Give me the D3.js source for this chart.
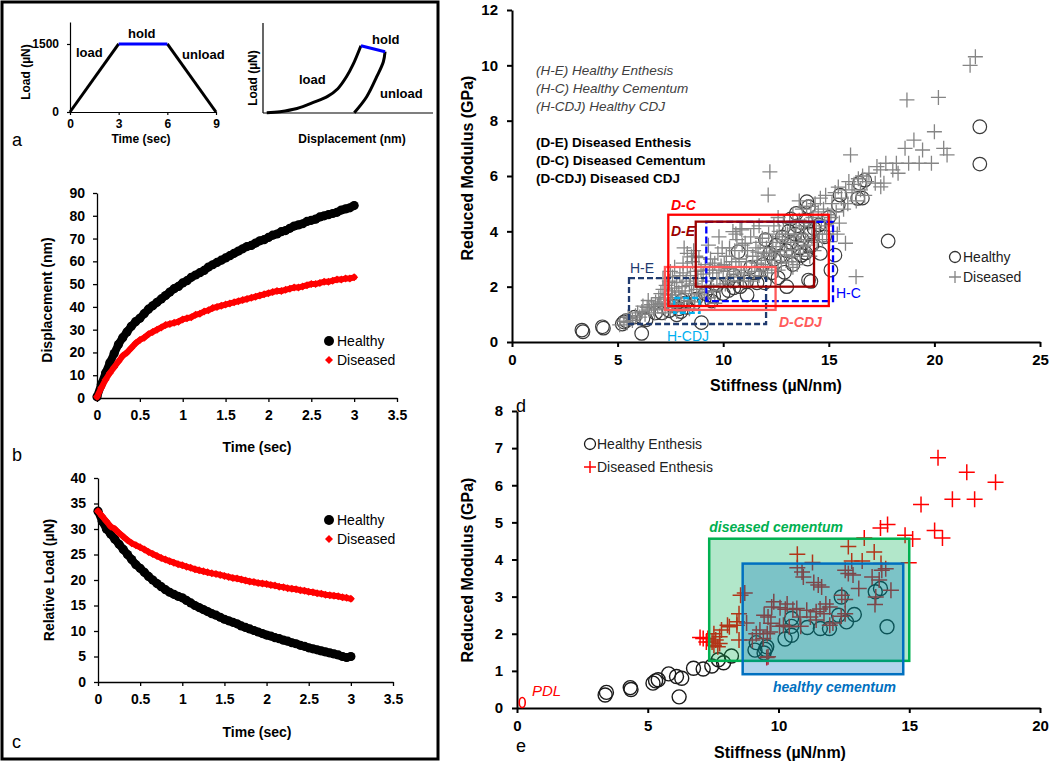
<!DOCTYPE html>
<html><head><meta charset="utf-8">
<script src="https://cdn.jsdelivr.net/npm/d3@7"></script>
<style>body{margin:0;background:#fff}svg{display:block}</style>
</head><body><svg id="c" width="1050" height="763"></svg>
<script>
// ---------- DATA ----------
// panel a (protocol)
const protoTime = [0, 3, 6, 9];
const protoLoad = [0, 1500, 1500, 0];
const loadCurve = [[2.2,0.3],[10,1.5],[20,5],[30,12],[38,18.5],[44,27],[49,40],[53,54],[57.6,74.8]];
const holdCurve = [[57.6,74.8],[71.8,68.1]];
const unloadCurve = [[71.8,68.1],[70.8,57],[66.9,40.3],[61,18.1],[53.7,0.3]];

// panels b, c
const timeGrid = [0,0.05,0.1,0.15,0.2,0.25,0.3,0.35,0.4,0.45,0.5,0.55,0.6,0.65,0.7,0.75,0.8,0.85,0.9,0.95,1,1.05,1.1,1.15,1.2,1.25,1.3,1.35,1.4,1.45,1.5,1.55,1.6,1.65,1.7,1.75,1.8,1.85,1.9,1.95,2,2.05,2.1,2.15,2.2,2.25,2.3,2.35,2.4,2.45,2.5,2.55,2.6,2.65,2.7,2.75,2.8,2.85,2.9,2.95,3];
const dispHealthy = [0.5,6,11,15.5,19.5,23.5,26.5,29,31.5,33.5,35,37,39,40.5,42,43.5,45,46.5,48,49,50.5,51.5,53,54,55,56,57.5,58.5,59.5,60.5,61.5,62.5,63.5,64.5,65.5,66.5,67,68,69,69.5,70.5,71.5,72,73,73.5,74.5,75.5,76,76.5,77.5,78,78.5,79.5,80,80.5,81,81.5,82.5,83,83.5,84.5];
const dispDiseased = [0.5,4.5,8,11,13.5,16,18.5,20,22,24,25.5,26.5,28,29,30,31,32,32.5,33,33.5,34.5,35,35.5,36.5,37,38,38.5,39.5,40,40.5,41,41.5,42,42.5,43,43.5,44,44.5,45,45.5,46,46.5,47,47,47.5,48,48.5,48.5,49,49.5,50,50,50.5,51,51,51.5,52,52,52.5,52.5,53];
const loadHealthy = [33.5,31.5,30,29,28,27,26,25,24,23,22.3,21.5,20.7,20,19.3,18.7,18.1,17.6,17.2,16.8,16.5,16,15.5,15,14.6,14.2,13.8,13.4,13.1,12.7,12.3,12,11.7,11.4,11,10.7,10.4,10.1,9.8,9.5,9.2,9,8.7,8.5,8.2,8,7.7,7.5,7.2,7,6.7,6.5,6.3,6.1,5.9,5.7,5.5,5.3,5,4.8,5];
const loadDiseased = [33.5,32.5,31.5,30.5,30,29.2,28.5,27.8,27.2,26.8,26.4,26,25.5,25.1,24.7,24.3,24,23.7,23.4,23.1,22.9,22.6,22.4,22.1,21.9,21.7,21.5,21.3,21.2,21,20.8,20.6,20.4,20.3,20.1,19.9,19.7,19.6,19.4,19.3,19.2,19,18.9,18.7,18.6,18.4,18.3,18.2,18,17.9,17.7,17.6,17.4,17.3,17.1,17,16.9,16.8,16.6,16.5,16.3];
const bcSeries = ["Healthy", "Diseased"];

// panel d
const dHealthy = [[3.36,0.37],[3.31,0.43],[4.28,0.55],[4.33,0.5],[5.22,0.65],[5.3,0.72],[5.4,0.77],[5.8,0.9],[6.14,0.31],[6.2,0.85],[6.35,0.8],[6.8,1.05],[7.1,1.05],[7.45,1.13],[7.7,1.3],[7.9,1.2],[7.8,0.98],[8.2,1.4],[8.97,0.7],[8.0,1.1],[8.3,1.25],[8.6,1.38],[8.05,1.5],[8.7,1.55],[9.1,1.55],[9.15,1.75],[9.45,1.48],[9.55,1.65],[9.7,2.05],[10.0,1.75],[10.25,1.86],[10.5,1.96],[10.5,2.2],[10.5,2.41],[10.8,2.0],[11.1,2.17],[11.13,1.7],[11.6,2.14],[11.95,2.14],[11.5,2.5],[12.3,2.5],[12.4,2.99],[12.6,2.32],[12.9,2.52],[13.01,2.0],[10.71,3.26],[11.9,2.8],[12.2,3.2],[12.5,3.5],[12.8,3.8],[12.7,3.1],[13.0,3.3],[13.1,4.0],[13.2,3.6],[13.3,2.8],[13.4,3.9],[13.46,4.65],[13.5,4.2],[13.6,3.4],[13.7,3.13],[13.75,3.7],[13.9,3.22],[13.9,4.4],[13.96,5.07],[14.04,4.89],[14.0,3.0],[14.04,2.24],[14.1,3.9],[14.15,2.19],[14.2,3.5],[14.3,4.1],[14.54,4.23],[14.6,3.2],[14.8,3.8],[15.0,4.5],[15.29,3.14],[15.1,2.6],[15.45,4.95],[15.53,5.31],[16.37,5.19],[16.45,5.74],[16.59,5.2],[16.7,5.85],[17.81,3.65],[22.15,7.78],[22.15,6.43],[12.0,3.7],[11.3,2.7],[13.2,4.45]];
const dDiseased = [[5.1,0.62],[5.3,0.75],[5.45,0.7],[5.6,0.85],[5.7,0.78],[5.85,0.95],[5.95,1.05],[5.5,0.9],
[6.05,0.9],[6.15,1.1],[6.3,1.0],[6.4,1.25],[6.5,1.15],[6.6,1.35],[6.7,1.2],[6.8,1.45],[6.9,1.3],[6.95,1.6],[6.45,1.5],[6.75,1.05],[6.2,1.3],
[7.0,1.4],[7.05,1.75],[7.1,1.2],[7.15,1.9],[7.2,1.55],[7.3,2.05],[7.35,1.35],[7.4,1.7],[7.45,2.2],[7.5,1.5],[7.55,1.85],[7.6,2.35],[7.65,1.25],[7.7,1.95],[7.75,1.6],[7.8,2.15],[7.85,1.4],[7.9,1.8],[7.95,2.4],[7.25,1.05],[7.5,2.55],[7.8,1.1],[7.15,2.3],[7.6,1.7],[7.7,2.7],
[8.0,1.6],[8.05,2.0],[8.1,2.5],[8.15,1.3],[8.2,1.85],[8.25,2.2],[8.3,2.7],[8.35,1.5],[8.4,2.05],[8.45,2.4],[8.5,1.75],[8.55,2.9],[8.6,2.1],[8.65,1.45],[8.7,2.55],[8.75,1.9],[8.8,2.3],[8.85,3.05],[8.9,1.7],[8.95,2.6],[8.3,3.2],[8.6,3.3],[8.1,2.85],[8.4,1.2],[8.7,3.1],[8.5,3.08],[8.15,3.4],
[9.0,2.0],[9.05,2.45],[9.1,1.8],[9.15,2.8],[9.2,2.2],[9.3,1.6],[9.35,2.6],[9.4,3.0],[9.45,2.05],[9.5,2.5],[9.55,1.85],[9.6,2.85],[9.7,2.3],[9.75,3.2],[9.8,2.6],[9.85,2.0],[9.9,2.75],[9.95,3.4],[9.3,3.5],[9.6,1.4],[9.8,3.8],[9.5,2.72],
[10.0,2.3],[10.05,2.8],[10.1,2.1],[10.15,3.1],[10.2,2.55],[10.3,3.4],[10.35,2.2],[10.4,2.9],[10.5,2.45],[10.55,3.3],[10.6,2.7],[10.65,3.7],[10.7,2.35],[10.75,3.0],[10.8,4.1],[10.85,2.6],[10.9,3.5],[10.95,2.2],[10.46,3.99],[10.88,4.05],[10.3,2.65],[10.6,3.9],
[11.0,2.5],[11.04,3.57],[11.1,2.9],[11.15,3.3],[11.2,2.3],[11.3,3.8],[11.35,2.7],[11.4,3.1],[11.45,4.1],[11.5,2.55],[11.55,3.4],[11.6,2.85],[11.65,3.25],[11.7,2.4],[11.75,3.6],[11.8,2.95],[11.85,3.75],[11.9,2.6],[11.95,3.2],[11.3,2.2],[11.7,4.2],
[12.0,2.8],[12.05,3.4],[12.1,2.5],[12.13,5.31],[12.21,6.15],[12.15,3.9],[12.2,3.1],[12.3,2.7],[12.35,3.6],[12.4,4.2],[12.45,2.95],[12.5,3.3],[12.55,3.8],[12.6,2.6],[12.65,4.0],[12.7,3.45],[12.75,2.85],[12.8,3.7],[12.85,4.35],[12.9,3.15],[12.95,3.9],[12.6,4.5],[12.3,3.25],
[13.0,3.3],[13.05,3.9],[13.1,2.9],[13.15,4.3],[13.2,3.6],[13.25,3.1],[13.3,4.6],[13.35,3.8],[13.4,3.35],[13.45,4.1],[13.5,2.8],[13.55,3.6],[13.6,4.4],[13.65,3.2],[13.7,3.9],[13.75,4.8],[13.8,3.45],[13.85,4.2],[13.9,3.7],[13.95,4.9],[13.3,2.7],[13.6,5.1],
[14.0,3.5],[14.05,4.3],[14.1,3.1],[14.15,4.9],[14.2,3.8],[14.25,4.5],[14.3,3.3],[14.35,5.0],[14.4,4.1],[14.45,3.6],[14.5,4.7],[14.55,3.9],[14.6,5.2],[14.65,4.4],[14.7,3.7],[14.75,4.8],[14.8,4.2],[14.85,5.3],[14.9,3.9],[14.95,4.6],
[15.04,3.63],[15.1,4.5],[15.15,5.0],[15.2,4.0],[15.3,5.4],[15.35,4.7],[15.45,5.6],[15.5,4.3],[15.6,5.2],[15.7,4.8],[15.79,3.57],[15.8,5.5],[15.9,5.0],[15.95,5.8],[16.03,6.76],[15.4,3.9],
[16.1,5.4],[16.2,5.7],[16.29,2.36],[16.3,5.1],[16.4,5.9],[16.5,5.5],[16.6,6.0],[16.7,5.3],[16.8,5.8],[16.9,6.1],
[17.2,5.74],[17.28,6.34],[17.45,6.22],[17.61,5.74],[17.7,6.46],[17.46,5.61],[18.03,6.22],[18.2,6.46],[18.28,6.1],[18.78,6.46],[19.28,6.46],[18.61,7.0],[19.03,7.3],[19.44,6.94],[20.0,7.6],[20.6,6.76],[18.7,8.75],[20.19,8.84],[21.69,10.0],[21.94,10.31],[20.44,7.0],[19.86,6.46]];
const dBoxNames = ["H-E","H-CDJ","H-C","D-CDJ","D-C","D-E"];
const dBoxX0 = [5.54, 7.68, 9.2, 7.24, 7.4, 8.7];
const dBoxX1 = [12.03, 8.88, 15.2, 12.48, 15.0, 14.3];
const dBoxY0 = [0.65, 1.05, 1.48, 1.16, 1.3, 2.0];
const dBoxY1 = [2.31, 1.59, 4.34, 2.71, 4.6, 4.35];
const dNoteHealthy = ["(H-E)  Healthy Enthesis", "(H-C)  Healthy Cementum", "(H-CDJ)  Healthy CDJ"];
const dNoteDiseased = ["(D-E)  Diseased Enthesis", "(D-C)  Diseased Cementum", "(D-CDJ)  Diseased CDJ"];

// panel e
const eHealthy = [[3.37,0.35],[3.42,0.42],[4.33,0.55],[4.36,0.5],[5.2,0.67],[5.3,0.73],[5.4,0.76],[5.8,0.92],[6.1,0.85],[6.3,0.8],[6.2,0.3],[6.75,1.07],[7.12,1.05],[7.45,1.13],[7.7,1.3],[7.9,1.22],[8.2,1.4],[9.1,1.56],[9.15,1.76],[9.45,1.48],[9.5,1.58],[9.55,1.65],[10.25,1.86],[10.5,1.96],[10.5,2.2],[10.5,2.41],[11.1,2.17],[11.6,2.14],[11.95,2.14],[12.3,2.5],[12.4,2.99],[12.6,2.32],[12.9,2.52],[13.7,3.13],[13.9,3.22],[14.15,2.19]];
const eDiseased = [[16.1,6.74],[17.2,6.35],[18.3,6.08],[15.45,5.48],[16.65,5.62],[17.5,5.62],[13.9,4.85],[14.17,4.94],[15.97,4.78],[16.27,4.58],[13.28,4.58],[15.13,4.55],[14.84,4.65],[12.67,4.35],[13.66,4.2],[10.72,4.14],[11.3,3.92],[12.8,3.96],[13.2,3.96],[14.98,3.91],[13.92,3.89],[12.55,3.71],[12.67,3.62],[12.85,3.58],[10.72,3.78],[10.9,3.66],[10.95,3.53],[13.95,3.71],[14.1,3.75],[13.58,3.53],[13.85,3.45],[11.35,3.38],[11.52,3.31],[11.65,3.26],[13.07,3.22],[14.3,3.17],[8.71,3.1],[8.55,3.04],[12.55,2.92],[12.42,3.04],[13.69,2.79],[13.72,2.99],[9.82,2.86],[9.74,2.72],[10.33,2.8],[10.26,2.66],[10.06,2.7],[10.55,2.65],[10.7,2.68],[11.44,2.59],[11.59,2.67],[11.81,2.8],[11.96,2.72],[11.74,2.54],[11.22,2.45],[11.44,2.37],[11.08,2.63],[10.82,2.45],[9.45,2.5],[9.71,2.28],[9.6,2.45],[10.04,2.2],[10.19,2.23],[10.41,2.19],[11.96,2.23],[12.08,2.29],[12.55,2.54],[12.4,2.47],[10.85,2.2],[9.57,2.0],[9.68,2.05],[9.29,2.1],[9.15,2.0],[9.0,1.83],[9.42,1.87],[9.6,1.38],[8.41,2.32],[8.78,2.29],[8.49,2.54],[8.41,2.23],[8.49,1.83],[7.82,2.1],[8.12,2.19],[8.05,2.23],[7.53,2.0],[7.75,1.92],[7.6,1.83],[7.12,1.87],[7.3,1.87],[7.24,1.78],[7.46,1.78],[7.53,1.69],[7.68,1.65],[7.75,1.74],[7.0,1.9],[9.55,1.36]];
const ePDL = [0.2, 0.15];
const eBoxNames = ["diseased  cementum", "healthy  cementum"];
const eBoxX0 = [7.35, 8.63];
const eBoxX1 = [15.0, 14.77];
const eBoxY0 = [1.27, 0.91];
const eBoxY1 = [4.56, 3.89];
const eSeries = ["Healthy Enthesis", "Diseased Enthesis"];

// ---------- DRAWING ----------
const F = "Arial, 'Liberation Sans', Helvetica, sans-serif";
const svg = d3.select("#c");
svg.append("rect").attr("width",1050).attr("height",763).attr("fill","#fff");
svg.append("rect").attr("x",2).attr("y",2).attr("width",436).attr("height",757)
  .attr("fill","none").attr("stroke","#000").attr("stroke-width",3);

function txt(x, y, s, o = {}) {
  const t = svg.append("text").attr("x", x).attr("y", y).text(s)
    .attr("font-family", F).attr("font-size", o.size || 14)
    .attr("font-weight", o.weight || "normal").attr("font-style", o.style || "normal")
    .attr("fill", o.fill || "#000").attr("text-anchor", o.anchor || "start");
  if (o.rotate) t.attr("transform", `rotate(-90,${x},${y})`);
  return t;
}
function axis(gen, tx, ty, fs, sw) {
  const g = svg.append("g").attr("transform", `translate(${tx},${ty})`).call(gen);
  g.attr("font-family", F).attr("font-size", fs).attr("font-weight", "bold");
  g.select(".domain").attr("stroke", "#000").attr("stroke-width", sw);
  g.selectAll(".tick line").attr("stroke", "#000").attr("stroke-width", sw);
  g.selectAll(".tick text").attr("fill", "#000");
  return g;
}
const fmt = d3.format("~g");

// ===== panel a (left) =====
const xA = d3.scaleLinear([0, 9], [70, 216]);
const yA = d3.scaleLinear([0, 1985], [112, 22]);
axis(d3.axisLeft(yA).tickValues([0, 1500]).tickFormat(d3.format("d")).tickSize(3).tickSizeOuter(0).tickPadding(8), 70, 0, 12, 1.2);
axis(d3.axisBottom(xA).tickValues(protoTime).tickSize(3).tickSizeOuter(0).tickPadding(4), 0, 112, 12, 1.2);
const protoPts = protoTime.map((t, i) => [t, protoLoad[i]]);
const lnA = d3.line().x(d => xA(d[0])).y(d => yA(d[1]));
svg.append("path").attr("d", lnA([protoPts[0], protoPts[1]])).attr("stroke", "#000").attr("stroke-width", 3).attr("fill", "none");
svg.append("path").attr("d", lnA([protoPts[2], protoPts[3]])).attr("stroke", "#000").attr("stroke-width", 3).attr("fill", "none");
svg.append("path").attr("d", lnA([protoPts[1], protoPts[2]])).attr("stroke", "#0000ff").attr("stroke-width", 3).attr("fill", "none");
txt(76, 57, "load", {size: 13, weight: "bold"});
txt(128, 38, "hold", {size: 13, weight: "bold"});
txt(182, 59, "unload", {size: 13, weight: "bold"});
txt(30, 72, "Load (µN)", {size: 12, weight: "bold", anchor: "middle", rotate: true});
txt(141, 143, "Time (sec)", {size: 12, weight: "bold", anchor: "middle"});
txt(12, 146, "a", {size: 18});

// ===== panel a (right) =====
const xA2 = d3.scaleLinear([0, 100], [263, 433]);
const yA2 = d3.scaleLinear([0, 100], [113, 23]);
svg.append("line").attr("x1", xA2(0)).attr("x2", xA2(0)).attr("y1", yA2(0)).attr("y2", yA2(100)).attr("stroke", "#000").attr("stroke-width", 1.2);
svg.append("line").attr("x1", xA2(0)).attr("x2", xA2(100)).attr("y1", yA2(0)).attr("y2", yA2(0)).attr("stroke", "#000").attr("stroke-width", 1.2);
const lnA2 = d3.line().x(d => xA2(d[0])).y(d => yA2(d[1])).curve(d3.curveCatmullRom);
svg.append("path").attr("d", lnA2(loadCurve)).attr("stroke", "#000").attr("stroke-width", 3).attr("fill", "none");
svg.append("path").attr("d", lnA2(unloadCurve)).attr("stroke", "#000").attr("stroke-width", 3).attr("fill", "none");
svg.append("path").attr("d", d3.line().x(d => xA2(d[0])).y(d => yA2(d[1]))(holdCurve)).attr("stroke", "#0000ff").attr("stroke-width", 3).attr("fill", "none");
txt(372, 44, "hold", {size: 13, weight: "bold"});
txt(299, 84, "load", {size: 13, weight: "bold"});
txt(380, 98, "unload", {size: 13, weight: "bold"});
txt(257, 78, "Load (µN)", {size: 12, weight: "bold", anchor: "middle", rotate: true});
txt(352, 143, "Displacement (nm)", {size: 12, weight: "bold", anchor: "middle"});

// ===== panels b, c =====
const diamond = "M0,-4L4,0L0,4L-4,0Z";
function timePanel(xs, ys, yTicks, hv, dv, legY, ytitle, ytx, yty, xty) {
  axis(d3.axisLeft(ys).tickValues(yTicks).tickSize(4).tickSizeOuter(0).tickPadding(8), xs(0), 0, 14, 1.3);
  axis(d3.axisBottom(xs).tickValues([0,0.5,1,1.5,2,2.5,3,3.5]).tickFormat(fmt).tickSize(4).tickSizeOuter(0).tickPadding(8), 0, ys(0), 14, 1.3);
  const hp = timeGrid.map((t, i) => [t, hv[i]]);
  const dp = timeGrid.map((t, i) => [t, dv[i]]);
  const ln = d3.line().x(d => xs(d[0])).y(d => ys(d[1]));
  svg.append("path").attr("d", ln(hp)).attr("stroke", "#000").attr("stroke-width", 8).attr("fill", "none").attr("stroke-linecap", "round");
  svg.append("g").selectAll("circle").data(hp).join("circle")
    .attr("cx", d => xs(d[0])).attr("cy", d => ys(d[1])).attr("r", 4.6).attr("fill", "#000");
  svg.append("path").attr("d", ln(dp)).attr("stroke", "#ff0000").attr("stroke-width", 6).attr("fill", "none").attr("stroke-linecap", "round");
  svg.append("g").selectAll("path").data(dp).join("path")
    .attr("d", diamond).attr("transform", d => `translate(${xs(d[0])},${ys(d[1])})`).attr("fill", "#ff0000");
  svg.append("circle").attr("cx", 329).attr("cy", legY).attr("r", 5).attr("fill", "#000");
  txt(337, legY + 5, bcSeries[0], {size: 14});
  svg.append("path").attr("d", diamond).attr("transform", `translate(329,${legY + 19})`).attr("fill", "#ff0000");
  txt(337, legY + 24, bcSeries[1], {size: 14});
  txt(ytx, yty, ytitle, {size: 14, weight: "bold", anchor: "middle", rotate: true});
  txt(257, xty, "Time (sec)", {size: 14, weight: "bold", anchor: "middle"});
}
const xB = d3.scaleLinear([0, 3.5], [97, 397]);
const yB = d3.scaleLinear([0, 90], [398, 193]);
timePanel(xB, yB, [0,10,20,30,40,50,60,70,80,90], dispHealthy, dispDiseased, 341, "Displacement (nm)", 52, 300, 452);
txt(12, 461, "b", {size: 18});
const xC = d3.scaleLinear([0, 3.5], [98, 393]);
const yC = d3.scaleLinear([0, 40], [682, 478]);
timePanel(xC, yC, [0,5,10,15,20,25,30,35,40], loadHealthy, loadDiseased, 520, "Relative Load (µN)", 54, 580, 737);
txt(12, 748, "c", {size: 18});

// ===== panel d =====
const xD = d3.scaleLinear([0, 25], [512, 1040]);
const yD = d3.scaleLinear([0, 12], [342, 10]);
axis(d3.axisLeft(yD).tickValues([0,2,4,6,8,10,12]).tickSize(5).tickSizeOuter(0).tickPadding(9), 512, 0, 15, 2);
axis(d3.axisBottom(xD).tickValues([0,5,10,15,20,25]).tickSize(5).tickSizeOuter(0).tickPadding(7), 0, 342, 15, 2);
const plus = h => `M${-h},0H${h}M0,${-h}V${h}`;
svg.append("g").selectAll("circle").data(dHealthy).join("circle")
  .attr("cx", d => xD(d[0])).attr("cy", d => yD(d[1])).attr("r", 6.8)
  .attr("fill", "none").attr("stroke", "#3a3a3a").attr("stroke-width", 1.2);
svg.append("g").selectAll("path").data(dDiseased).join("path")
  .attr("d", plus(7.5)).attr("transform", d => `translate(${xD(d[0])},${yD(d[1])})`)
  .attr("stroke", "#858585").attr("stroke-width", 1.3).attr("fill", "none");
const dBoxColor = ["#1f3a6e", "#00b0f0", "#0000ff", "#ff5a5a", "#ff0000", "#9c0000"];
const dBoxDash = ["6,3", "6,3", "7,3", null, null, null];
dBoxNames.forEach((n, i) => {
  svg.append("rect").attr("x", xD(dBoxX0[i])).attr("y", yD(dBoxY1[i]))
    .attr("width", xD(dBoxX1[i]) - xD(dBoxX0[i])).attr("height", yD(dBoxY0[i]) - yD(dBoxY1[i]))
    .attr("fill", "none").attr("stroke", dBoxColor[i]).attr("stroke-width", 2.3)
    .attr("stroke-dasharray", dBoxDash[i]);
});
const dLab = {
  "H-E":  [630, 273, "normal"], "H-CDJ": [667, 341, "normal"], "H-C": [836, 298, "normal"],
  "D-CDJ": [779, 327, "italic"], "D-C": [671, 210, "italic"], "D-E": [671, 236, "italic"]
};
dBoxNames.forEach((n, i) => {
  const p = dLab[n];
  txt(p[0], p[1], n, {size: 14, style: p[2], weight: p[2] === "italic" ? "bold" : "normal", fill: dBoxColor[i]});
});
dNoteHealthy.forEach((s, i) => txt(536, 75 + i * 18, s, {size: 13.5, style: "italic", fill: "#404040"}));
dNoteDiseased.forEach((s, i) => txt(536, 147 + i * 18, s, {size: 13.5, weight: "bold", fill: "#000"}));
svg.append("circle").attr("cx", 955).attr("cy", 257).attr("r", 5.5).attr("fill", "none").attr("stroke", "#333").attr("stroke-width", 1.3);
txt(963, 262, "Healthy", {size: 14, fill: "#222"});
svg.append("path").attr("d", plus(6)).attr("transform", "translate(955,277)").attr("stroke", "#858585").attr("stroke-width", 1.3);
txt(963, 282, "Diseased", {size: 14, fill: "#222"});
txt(776, 391, "Stiffness (µN/nm)", {size: 16, weight: "bold", anchor: "middle"});
txt(473, 168, "Reduced Modulus (GPa)", {size: 16, weight: "bold", anchor: "middle", rotate: true});
txt(516, 412, "d", {size: 18});

// ===== panel e =====
const xE = d3.scaleLinear([0, 20], [517, 1040]);
const yE = d3.scaleLinear([0, 8], [708, 411]);
axis(d3.axisLeft(yE).tickValues([0,1,2,3,4,5,6,7,8]).tickSize(5).tickSizeOuter(0).tickPadding(9), 517, 0, 15, 2);
axis(d3.axisBottom(xE).tickValues([0,5,10,15,20]).tickSize(5).tickSizeOuter(0).tickPadding(7), 0, 708, 15, 2);
svg.append("g").selectAll("circle").data(eHealthy).join("circle")
  .attr("cx", d => xE(d[0])).attr("cy", d => yE(d[1])).attr("r", 7)
  .attr("fill", "none").attr("stroke", "#1a1a1a").attr("stroke-width", 1.4);
svg.append("g").selectAll("path").data(eDiseased).join("path")
  .attr("d", plus(8)).attr("transform", d => `translate(${xE(d[0])},${yE(d[1])})`)
  .attr("stroke", "#ff0000").attr("stroke-width", 1.5).attr("fill", "none");
svg.append("ellipse").attr("cx", xE(ePDL[0])).attr("cy", yE(ePDL[1])).attr("rx", 3).attr("ry", 5)
  .attr("fill", "none").attr("stroke", "#ff0000").attr("stroke-width", 1.6);
const eFill = ["rgba(0,176,80,0.3)", "rgba(0,112,192,0.3)"];
const eStroke = ["#00b050", "#0070c0"];
eBoxNames.forEach((n, i) => {
  svg.append("rect").attr("x", xE(eBoxX0[i])).attr("y", yE(eBoxY1[i]))
    .attr("width", xE(eBoxX1[i]) - xE(eBoxX0[i])).attr("height", yE(eBoxY0[i]) - yE(eBoxY1[i]))
    .attr("fill", eFill[i]).attr("stroke", eStroke[i]).attr("stroke-width", 2.5);
});
txt(xE(eBoxX0[0]), 532, eBoxNames[0], {size: 14, weight: "bold", style: "italic", fill: eStroke[0]});
txt(773, 692, eBoxNames[1], {size: 14, weight: "bold", style: "italic", fill: eStroke[1]});
txt(532, 696, "PDL", {size: 15, style: "italic", fill: "#ff0000"});
svg.append("circle").attr("cx", 590).attr("cy", 444).attr("r", 5.5).attr("fill", "none").attr("stroke", "#1a1a1a").attr("stroke-width", 1.3);
txt(597, 449, eSeries[0], {size: 14, fill: "#222"});
svg.append("path").attr("d", plus(6)).attr("transform", "translate(590,467)").attr("stroke", "#ff0000").attr("stroke-width", 1.5);
txt(597, 472, eSeries[1], {size: 14, fill: "#222"});
txt(780, 758, "Stiffness (µN/nm)", {size: 16, weight: "bold", anchor: "middle"});
txt(473, 570, "Reduced Modulus (GPa)", {size: 16, weight: "bold", anchor: "middle", rotate: true});
txt(516, 752, "e", {size: 18});
</script></body></html>
